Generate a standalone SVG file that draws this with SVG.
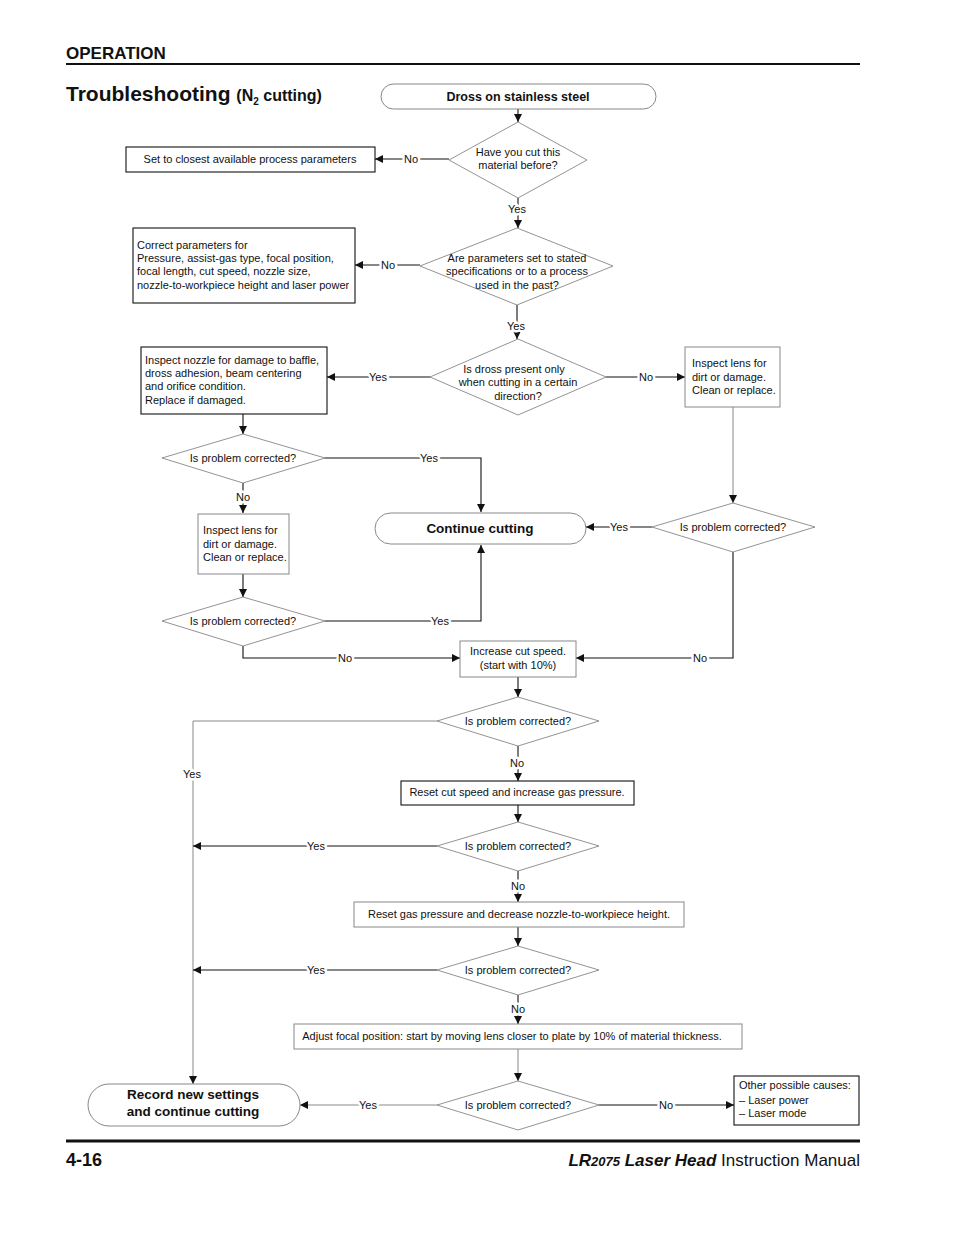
<svg xmlns="http://www.w3.org/2000/svg" width="954" height="1235" viewBox="0 0 954 1235">
<defs>
<marker id="ah" viewBox="0 0 10 10" refX="10" refY="5" markerWidth="8" markerHeight="8" markerUnits="userSpaceOnUse" orient="auto">
<path d="M0,0 L10,5 L0,10 z" fill="#111"/>
</marker>
</defs>
<style>
text{font-family:"Liberation Sans",Arial,sans-serif;fill:#111}
.t{font-size:11px;text-anchor:middle}
.tl{font-size:11px}
.lbl{font-size:11px;text-anchor:middle;paint-order:stroke;stroke:#fff;stroke-width:5px;stroke-linejoin:round}
.dia{fill:#fff;stroke:#777;stroke-width:0.8}
.bk{fill:#fff;stroke:#111;stroke-width:1.1}
.gr{fill:#fff;stroke:#888;stroke-width:1}
.term{fill:#fff;stroke:#888;stroke-width:1}
.c{fill:none;stroke:#111;stroke-width:1.1}
.cg{fill:none;stroke:#888;stroke-width:1}
.bt{font-size:13.5px;font-weight:bold;text-anchor:middle}
</style>
<rect width="954" height="1235" fill="#fff"/>
<g id="header">
<text x="66" y="59" style="font-size:17px;font-weight:bold">OPERATION</text>
<line x1="66" y1="64" x2="860" y2="64" stroke="#111" stroke-width="2"/>
<text x="66" y="101" style="font-size:21px;font-weight:bold">Troubleshooting <tspan style="font-size:16px">(N</tspan><tspan style="font-size:10px" dy="4">2</tspan><tspan style="font-size:16px" dy="-4"> cutting)</tspan></text>
</g>
<g id="connectors">
<line class="c" x1="518" y1="109" x2="518" y2="122" marker-end="url(#ah)"/>
<line class="c" x1="449" y1="159" x2="375" y2="159" marker-end="url(#ah)"/>
<text class="lbl" x="411" y="163">No</text>
<line class="c" x1="518" y1="198" x2="518" y2="228" marker-end="url(#ah)"/>
<text class="lbl" x="517" y="213">Yes</text>
<line class="c" x1="420" y1="265" x2="355" y2="265" marker-end="url(#ah)"/>
<text class="lbl" x="388" y="269">No</text>
<line class="c" x1="517" y1="305" x2="517" y2="339" marker-end="url(#ah)"/>
<text class="lbl" x="516" y="330">Yes</text>
<line class="c" x1="430" y1="377" x2="327" y2="377" marker-end="url(#ah)"/>
<text class="lbl" x="378" y="381">Yes</text>
<line class="c" x1="606" y1="377" x2="685" y2="377" marker-end="url(#ah)"/>
<text class="lbl" x="646" y="381">No</text>
<line class="c" x1="243" y1="414" x2="243" y2="434" marker-end="url(#ah)"/>
<polyline class="c" points="325,458 481,458 481,512" marker-end="url(#ah)"/>
<text class="lbl" x="429" y="462">Yes</text>
<line class="c" x1="243" y1="483" x2="243" y2="513" marker-end="url(#ah)"/>
<text class="lbl" x="243" y="501">No</text>
<line class="c" x1="243" y1="574" x2="243" y2="597" marker-end="url(#ah)"/>
<polyline class="c" points="325,621 481,621 481,545" marker-end="url(#ah)"/>
<text class="lbl" x="440" y="625">Yes</text>
<polyline class="c" points="243,646 243,658 460,658" marker-end="url(#ah)"/>
<text class="lbl" x="345" y="662">No</text>
<line class="cg" x1="733" y1="407" x2="733" y2="503" marker-end="url(#ah)"/>
<line class="c" x1="652" y1="527" x2="586" y2="527" marker-end="url(#ah)"/>
<text class="lbl" x="619" y="531">Yes</text>
<polyline class="c" points="733,552 733,658 576,658" marker-end="url(#ah)"/>
<text class="lbl" x="700" y="662">No</text>
<line class="c" x1="518" y1="677" x2="518" y2="697" marker-end="url(#ah)"/>
<polyline class="cg" points="437,721 193,721 193,1084" marker-end="url(#ah)"/>
<text class="lbl" x="192" y="778">Yes</text>
<line class="c" x1="518" y1="746" x2="518" y2="781" marker-end="url(#ah)"/>
<text class="lbl" x="517" y="767">No</text>
<line class="c" x1="518" y1="805" x2="518" y2="822" marker-end="url(#ah)"/>
<line class="c" x1="437" y1="846" x2="193" y2="846" marker-end="url(#ah)"/>
<text class="lbl" x="316" y="850">Yes</text>
<line class="c" x1="518" y1="871" x2="518" y2="902" marker-end="url(#ah)"/>
<text class="lbl" x="518" y="890">No</text>
<line class="c" x1="518" y1="927" x2="518" y2="946" marker-end="url(#ah)"/>
<line class="c" x1="437" y1="970" x2="193" y2="970" marker-end="url(#ah)"/>
<text class="lbl" x="316" y="974">Yes</text>
<line class="c" x1="518" y1="995" x2="518" y2="1024" marker-end="url(#ah)"/>
<text class="lbl" x="518" y="1013">No</text>
<line class="cg" x1="518" y1="1049" x2="518" y2="1081" marker-end="url(#ah)"/>
<line class="cg" x1="437" y1="1105" x2="300" y2="1105" marker-end="url(#ah)"/>
<text class="lbl" x="368" y="1109">Yes</text>
<line class="c" x1="599" y1="1105" x2="734" y2="1105" marker-end="url(#ah)"/>
<text class="lbl" x="666" y="1109">No</text>
</g>
<g id="start">
<rect class="term" x="381" y="84" width="275" height="25" rx="12.5"/>
<text class="bt" x="518" y="101" style="font-size:12.5px">Dross on stainless steel</text>
</g>
<g id="d1">
<polygon class="dia" points="518,122 587,160 518,198 449,160"/>
<text class="t" x="518" y="156">Have you cut this</text>
<text class="t" x="518" y="169">material before?</text>
</g>
<g id="b1">
<rect class="bk" x="126" y="147" width="249" height="25"/>
<text class="t" x="250" y="163">Set to closest available process parameters</text>
</g>
<g id="d2">
<polygon class="dia" points="517,228 613,266 517,305 420,266"/>
<text class="t" x="517" y="262">Are parameters set to stated</text>
<text class="t" x="517" y="275">specifications or to a process</text>
<text class="t" x="517" y="289">used in the past?</text>
</g>
<g id="b2">
<rect class="bk" x="133" y="228" width="222" height="75"/>
<text class="tl" x="137" y="249">Correct parameters for</text>
<text class="tl" x="137" y="262">Pressure, assist-gas type, focal position,</text>
<text class="tl" x="137" y="275">focal length, cut speed, nozzle size,</text>
<text class="tl" x="137" y="289">nozzle-to-workpiece height and laser power</text>
</g>
<g id="d3">
<polygon class="dia" points="518,339 606,377 518,415 430,377"/>
<text class="t" x="514" y="373">Is dross present only</text>
<text class="t" x="518" y="386">when cutting in a certain</text>
<text class="t" x="518" y="400">direction?</text>
</g>
<g id="b3">
<rect class="bk" x="141" y="347" width="186" height="67"/>
<text class="tl" x="145" y="364">Inspect nozzle for damage to baffle,</text>
<text class="tl" x="145" y="377">dross adhesion, beam centering</text>
<text class="tl" x="145" y="390">and orifice condition.</text>
<text class="tl" x="145" y="404">Replace if damaged.</text>
</g>
<g id="b4">
<rect class="gr" x="685" y="347" width="95" height="60"/>
<text class="tl" x="692" y="367">Inspect lens for</text>
<text class="tl" x="692" y="381">dirt or damage.</text>
<text class="tl" x="692" y="394">Clean or replace.</text>
</g>
<g id="d4">
<polygon class="dia" points="243,434 325,458 243,483 162,458"/>
<text class="t" x="243" y="462">Is problem corrected?</text>
</g>
<g id="b5">
<rect class="gr" x="198" y="514" width="91" height="60"/>
<text class="tl" x="203" y="534">Inspect lens for</text>
<text class="tl" x="203" y="548">dirt or damage.</text>
<text class="tl" x="203" y="561">Clean or replace.</text>
</g>
<g id="d5">
<polygon class="dia" points="243,597 325,621 243,646 162,621"/>
<text class="t" x="243" y="625">Is problem corrected?</text>
</g>
<g id="cont">
<rect class="term" x="375" y="513" width="211" height="31" rx="15.5"/>
<text class="bt" x="480" y="533">Continue cutting</text>
</g>
<g id="d6">
<polygon class="dia" points="733,503 815,527 733,552 652,527"/>
<text class="t" x="733" y="531">Is problem corrected?</text>
</g>
<g id="b6">
<rect class="gr" x="460" y="641" width="116" height="36"/>
<text class="t" x="518" y="655">Increase cut speed.</text>
<text class="t" x="518" y="669">(start with 10%)</text>
</g>
<g id="d7">
<polygon class="dia" points="518,697 599,721 518,746 437,721"/>
<text class="t" x="518" y="725">Is problem corrected?</text>
</g>
<g id="b7">
<rect class="bk" x="401" y="781" width="233" height="24"/>
<text class="t" x="517" y="796">Reset cut speed and increase gas pressure.</text>
</g>
<g id="d8">
<polygon class="dia" points="518,822 599,846 518,871 437,846"/>
<text class="t" x="518" y="850">Is problem corrected?</text>
</g>
<g id="b8">
<rect class="gr" x="354" y="902" width="330" height="25"/>
<text class="t" x="519" y="918">Reset gas pressure and decrease nozzle-to-workpiece height.</text>
</g>
<g id="d9">
<polygon class="dia" points="518,946 599,970 518,995 437,970"/>
<text class="t" x="518" y="974">Is problem corrected?</text>
</g>
<g id="b9">
<rect class="gr" x="294" y="1024" width="448" height="25"/>
<text class="t" x="512" y="1040">Adjust focal position: start by moving lens closer to plate by 10% of material thickness.</text>
</g>
<g id="d10">
<polygon class="dia" points="518,1081 599,1105 518,1130 437,1105"/>
<text class="t" x="518" y="1109">Is problem corrected?</text>
</g>
<g id="b10">
<rect class="bk" x="734" y="1076" width="125" height="49"/>
<text class="tl" x="739" y="1089">Other possible causes:</text>
<text class="tl" x="739" y="1104">– Laser power</text>
<text class="tl" x="739" y="1117">– Laser mode</text>
</g>
<g id="record">
<rect class="term" x="88" y="1084" width="212" height="42" rx="21"/>
<text class="bt" x="193" y="1099">Record new settings</text>
<text class="bt" x="193" y="1116">and continue cutting</text>
</g>
<g id="footer">
<line x1="66" y1="1141" x2="860" y2="1141" stroke="#111" stroke-width="3"/>
<text x="66" y="1166" style="font-size:18px;font-weight:bold">4-16</text>
<text x="860" y="1166" style="font-size:17px;text-anchor:end"><tspan style="font-weight:bold;font-style:italic">LR<tspan style="font-size:13px">2075</tspan> Laser Head</tspan> Instruction Manual</text>
</g>
</svg>
